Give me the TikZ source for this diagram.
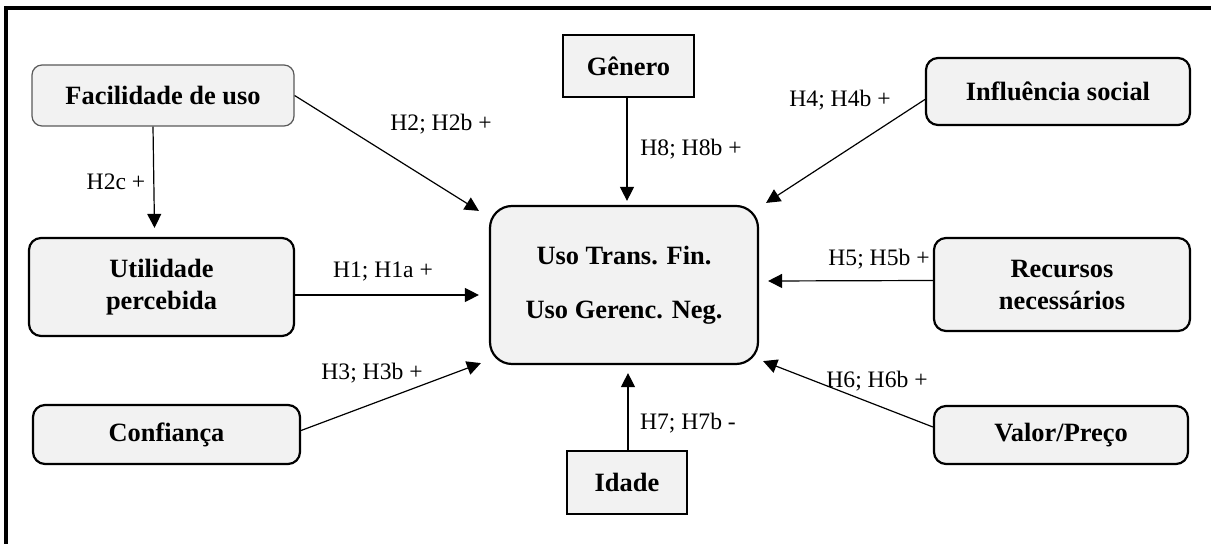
\documentclass[tikz,border=0pt]{standalone}
\usepackage{fontspec}
\setmainfont{Liberation Serif}
\usetikzlibrary{arrows.meta,calc}

\tikzset{
  box/.style={draw=black, line width=1.1pt, fill=black!5, rounded corners=6pt,
    align=center, inner sep=0pt,
    font=\fontsize{13.2}{16}\selectfont\bfseries},
  softbox/.style={box, draw=black!65, line width=0.6pt},
  sqbox/.style={box, rounded corners=0pt},
  lbl/.style={font=\fontsize{11.8}{14}\selectfont, inner sep=0pt},
  link/.style={line width=0.6pt, -{Triangle[length=7pt,width=7pt]}},
  frame/.style={line width=1.7pt}
}

\begin{document}
\begin{tikzpicture}[x=0.5pt, y=-0.5pt]
\useasboundingbox (0,0) rectangle (1211,544);

% outer frame (left and top edges)
\draw[frame] (6,544) -- (6,8) -- (1211,8);

% central construct
\node[box, rounded corners=11pt, minimum width=134pt, minimum height=79pt]
  (ctr) at (624,285) {Uso Trans. Fin.\\[11pt]Uso Gerenc. Neg.};

% left column
\node[softbox, rounded corners=5pt, minimum width=131pt, minimum height=30.5pt]
  (fac) at (163,95.5) {Facilidade de uso};
\node[box, minimum width=132.5pt, minimum height=49pt]
  (util) at (161.5,287) {Utilidade\\percebida};
\node[box, minimum width=133.5pt, minimum height=29.5pt]
  (conf) at (166.5,434.5) {Confiança};

% moderators
\node[sqbox, minimum width=65.5pt, minimum height=31pt]
  (gen) at (628.5,66) {Gênero};
\node[sqbox, minimum width=60pt, minimum height=31.5pt]
  (idade) at (627,482.5) {Idade};

% right column
\node[box, minimum width=132pt, minimum height=33.5pt]
  (infl) at (1058,91.5) {Influência social};
\node[box, minimum width=128pt, minimum height=46.5pt]
  (rec) at (1062,284.5) {Recursos\\necessários};
\node[box, minimum width=127pt, minimum height=29pt]
  (val) at (1061,435) {Valor/Preço};

% arrow tips around the central construct
\coordinate (tH2) at ($(ctr.north west)+(-10,6)$);
\coordinate (tH8) at ($(ctr.north)+(3,-4)$);
\coordinate (tH4) at ($(ctr.north east)+(7,-2)$);
\coordinate (tH1) at ($(ctr.west)+(-10,10)$);
\coordinate (tH5) at ($(ctr.east)+(9,-4)$);
\coordinate (tH3) at ($(ctr.south west)+(-8,-2)$);
\coordinate (tH6) at ($(ctr.south east)+(4,-4)$);
\coordinate (tH7) at ($(ctr.south)+(4,8)$);

% connectors
\draw[link] ($(fac.south)+(-10,0)$) -- ($(util.north)+(-7,-9)$);
\draw[link] (fac.east) -- (tH2);
\draw[link] ($(gen.south)+(-1.5,0)$) -- (tH8);
\draw[link] ($(infl.west)+(0,8)$) -- (tH4);
\draw[link] ($(util.east)+(0,8)$) -- (tH1);
\draw[link] ($(rec.west)+(0,-4)$) -- (tH5);
\draw[link] ($(conf.east)+(0,-4)$) -- (tH3);
\draw[link] ($(val.west)+(0,-8)$) -- (tH6);
\draw[link] ($(idade.north)+(1,0)$) -- (tH7);

% hypothesis labels
\node[lbl] (l2c) at (116,182) {H2c +};
\node[lbl] (l2) at (441,124) {H2; H2b +};
\node[lbl] (l8) at (691,149) {H8; H8b +};
\node[lbl] (l4) at (840,100) {H4; H4b +};
\node[lbl] (l1) at (383,272) {H1; H1a +};
\node[lbl] (l5) at (879,259) {H5; H5b +};
\node[lbl] (l3) at (372,373) {H3; H3b +};
\node[lbl] (l6) at (877,381) {H6; H6b +};
\node[lbl] (l7) at (688,423) {H7; H7b -};
\end{tikzpicture}
\end{document}
